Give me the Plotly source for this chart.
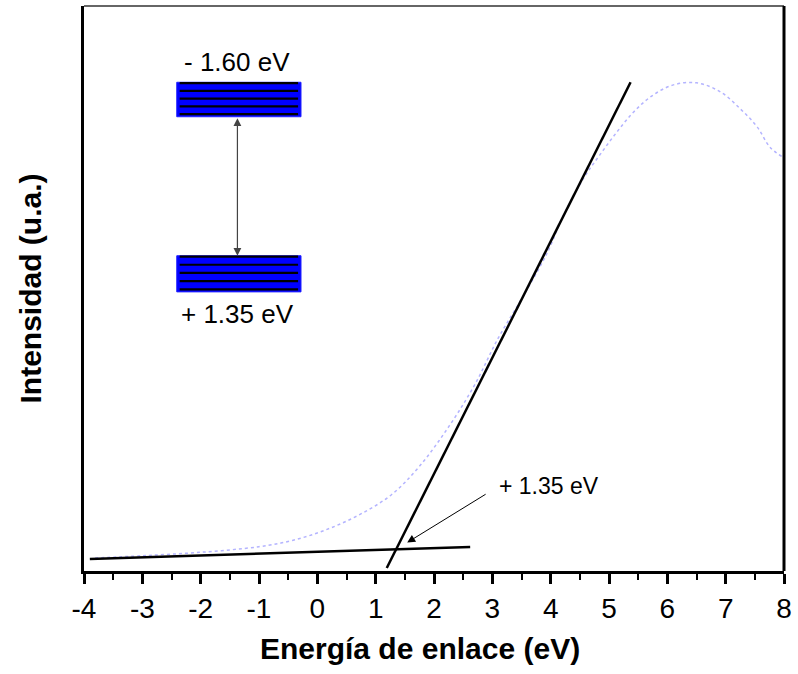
import plotly.graph_objects as go

# Measured spectrum (arbitrary intensity units)
energy = [-3.81, -3.0, -2.02, -1.0, -0.43, 0.15, 0.71, 1.27, 1.74, 2.25, 2.7, 3.1,
          3.55, 3.95, 4.18, 4.38, 4.60, 4.84, 5.12, 5.41, 5.71, 6.09, 6.50, 6.91,
          7.25, 7.54, 7.76, 7.97]
intensity = [2.3, 2.7, 3.3, 4.3, 5.4, 7.3, 9.9, 13.5, 18.4, 25.5, 33.0, 41.2,
             49.0, 56.5, 62.1, 66.2, 70.1, 73.6, 77.5, 81.1, 83.9, 86.0, 86.4, 84.8,
             81.8, 78.6, 75.0, 73.3]

# Linear fits: background and leading edge
base_x = [-3.90, 2.62]
base_y = [2.12, 4.25]
edge_x = [1.19, 5.37]
edge_y = [0.53, 86.5]

# Energy levels of the inset diagram
level_labels = ["- 1.60 eV", "+ 1.35 eV"]
onset_label = "+ 1.35 eV"

x_ticks = list(range(-4, 9))

FONT = "Arial, Liberation Sans, sans-serif"


def intersection(x1, y1, x2, y2):
    m1 = (y1[1] - y1[0]) / (x1[1] - x1[0])
    m2 = (y2[1] - y2[0]) / (x2[1] - x2[0])
    xi = (y2[0] - y1[0] + m1 * x1[0] - m2 * x2[0]) / (m1 - m2)
    return xi, y1[0] + m1 * (xi - x1[0])


fig = go.Figure()

fig.add_trace(go.Scatter(x=energy, y=intensity, mode="lines",
                         line=dict(color="#b4b4ff", width=1.5, dash="dot", shape="spline"),
                         showlegend=False, hoverinfo="skip"))
fig.add_trace(go.Scatter(x=base_x, y=base_y, mode="lines",
                         line=dict(color="black", width=2.5), showlegend=False))
fig.add_trace(go.Scatter(x=edge_x, y=edge_y, mode="lines",
                         line=dict(color="black", width=2.5), showlegend=False))

xi, yi = intersection(base_x, base_y, edge_x, edge_y)

shapes = []
annotations = []

# Inset: two banded levels joined by a double arrow
box_x0, box_x1 = -2.41, -0.28
for (y0, y1) in [(80.4, 86.5), (49.4, 55.8)]:
    shapes.append(dict(type="rect", xref="x", yref="y", x0=box_x0, x1=box_x1,
                       y0=y0, y1=y1, fillcolor="#0000ff",
                       line=dict(color="#2020ff", width=1), layer="above"))
    n = 5
    for k in range(n):
        yy = y1 - 0.15 - k * (y1 - y0 - 0.6) / (n - 1)
        shapes.append(dict(type="line", xref="x", yref="y", x0=box_x0 + 0.05,
                           x1=box_x1 - 0.05, y0=yy, y1=yy,
                           line=dict(color="black", width=2.2), layer="above"))

arrow_x = -1.37
annotations.append(dict(x=arrow_x, y=55.8, ax=arrow_x, ay=80.4, xref="x", yref="y",
                        axref="x", ayref="y", text="", showarrow=True,
                        arrowhead=2, startarrowhead=2, arrowside="end+start",
                        arrowsize=1.3, startarrowsize=1.3,
                        arrowwidth=1.2, arrowcolor="#444444"))
annotations.append(dict(x=arrow_x, y=90.1, xref="x", yref="y", text=level_labels[0],
                        showarrow=False, font=dict(family=FONT, size=26, color="black")))
annotations.append(dict(x=arrow_x, y=45.5, xref="x", yref="y", text=level_labels[1],
                        showarrow=False, font=dict(family=FONT, size=26, color="black")))

# Onset marker
annotations.append(dict(x=xi, y=yi, xref="x", yref="y", ax=91, ay=-56, text="",
                        showarrow=True, arrowhead=2, arrowsize=1.6, arrowwidth=1,
                        arrowcolor="black", standoff=13))
annotations.append(dict(x=3.08, y=15.0, xref="x", yref="y", text=onset_label,
                        xanchor="left", showarrow=False,
                        font=dict(family=FONT, size=23, color="black")))

# X axis title, centred slightly left of the plot centre
annotations.append(dict(x=0.48, y=-0.137, xref="paper", yref="paper",
                        text="<b>Energía de enlace (eV)</b>", showarrow=False,
                        xanchor="center", yanchor="middle",
                        font=dict(family=FONT, size=30, color="black")))

# Frame: thin top edge, thick right edge
shapes.append(dict(type="line", xref="paper", yref="paper", x0=0, x1=1, y0=1, y1=1,
                   line=dict(color="#333333", width=1.5)))
shapes.append(dict(type="line", xref="paper", yref="paper", x0=1, x1=1, y0=0, y1=1,
                   line=dict(color="black", width=3)))

fig.update_layout(
    width=798, height=674,
    margin=dict(l=84, r=11, t=6, b=103),
    paper_bgcolor="white", plot_bgcolor="white",
    shapes=shapes, annotations=annotations,
    xaxis=dict(range=[-4, 8], tickvals=x_ticks, ticktext=[str(v) for v in x_ticks],
               showgrid=False, zeroline=False, showline=True, linecolor="black",
               linewidth=3, ticks="outside", ticklen=10, tickwidth=2.5, tickcolor="black",
               minor=dict(dtick=0.5, ticks="outside", ticklen=6, tickwidth=2,
                          tickcolor="black"),
               tickfont=dict(family=FONT, size=28, color="black")),
    yaxis=dict(range=[0, 100], showticklabels=False, showgrid=False, zeroline=False,
               showline=True, linecolor="black", linewidth=3, ticks="",
               title=dict(text="<b>Intensidad (u.a.)</b>", standoff=31,
                          font=dict(family=FONT, size=30, color="black"))),
)

fig.write_html("out.html")
